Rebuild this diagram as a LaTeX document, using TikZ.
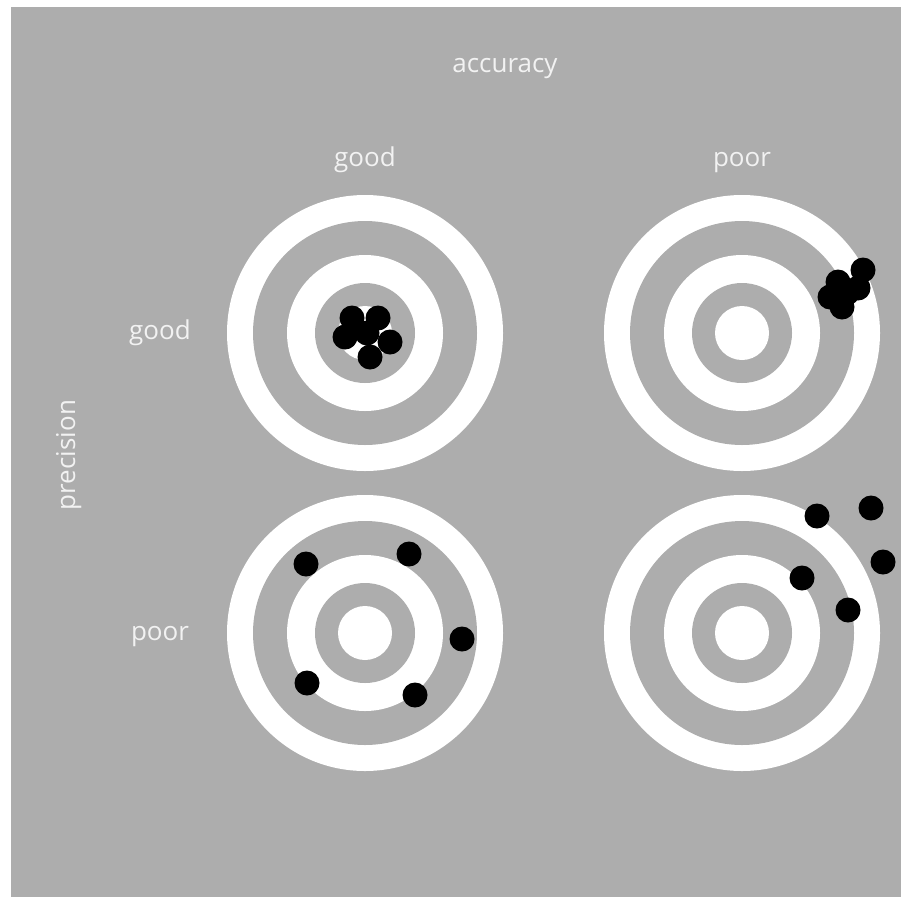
\documentclass[tikz,border=0pt]{standalone}
\usepackage{fontspec}
\setmainfont{Open Sans}
\usetikzlibrary{positioning}

\definecolor{bggray}{HTML}{ADADAD}
\definecolor{labelwhite}{HTML}{F2F2F2}

\begin{document}
\begin{tikzpicture}[
        x=1pt, y=-1pt,
        caption/.style={text=labelwhite, font=\fontsize{26}{30}\selectfont, inner sep=0pt, anchor=base},
        ring/.style={circle, inner sep=0pt, minimum size=#1},
        hit/.style={circle, fill=black, inner sep=0pt, minimum size=25pt}
    ]
    % Page and background
    \useasboundingbox (0,0) rectangle (901,897);
    \fill[white] (0,0) rectangle (901,897);
    \fill[bggray] (11,7) rectangle (901,897);

    % Targets
    \foreach \name/\cx/\cy in {gg/365/333, pg/742/333, gp/365/633, pp/742/633} {
        \coordinate (\name) at (\cx,\cy);
        \foreach \d/\c in {276/white, 224/bggray, 156/white, 100/bggray, 54/white}
            \node[ring=\d pt, fill=\c] at (\name) {};
    }

    % Hits: good accuracy, good precision
    \foreach \dx/\dy in {-13/-15, 13/-15, -20/4, 25/9, 5/24, 2/0}
        \node[hit] at ([shift={(\dx,\dy)}]gg) {};
    % Hits: poor accuracy, good precision
    \foreach \dx/\dy in {121/-63, 96/-51, 88/-36, 116/-45, 100/-26, 105/-40}
        \node[hit] at ([shift={(\dx,\dy)}]pg) {};
    % Hits: good accuracy, poor precision
    \foreach \dx/\dy in {-59/-69, 44/-79, 97/6, -58/50, 50/62}
        \node[hit] at ([shift={(\dx,\dy)}]gp) {};
    % Hits: poor accuracy, poor precision
    \foreach \dx/\dy in {75/-117, 129/-125, 141/-71, 60/-55, 106/-23}
        \node[hit] at ([shift={(\dx,\dy)}]pp) {};

    % Labels
    \node (accuracy) [caption] at (505,72) {accuracy};
    \node (accgood) [caption] at (365,166) {good};
    \node (accpoor) [caption] at (742,166) {poor};
    \node (precgood) [caption] at (160,339) {good};
    \node (precpoor) [caption] at (160,640) {poor};
    \node (precision) [caption, rotate=90] at (75,455) {precision};
\end{tikzpicture}
\end{document}
